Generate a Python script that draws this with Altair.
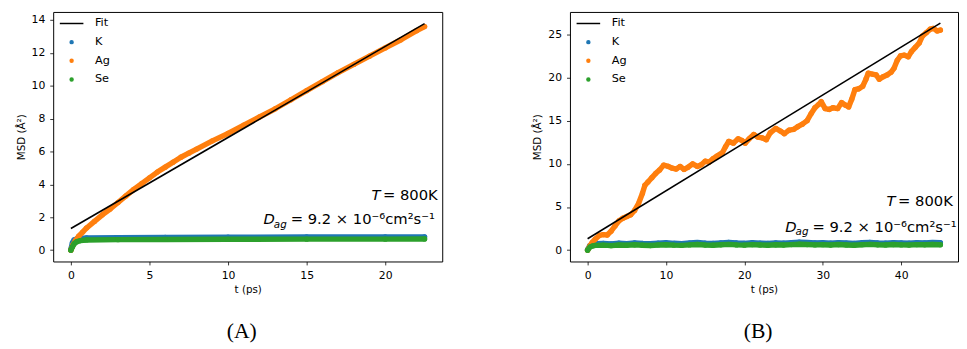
import altair as alt
import pandas as pd

FONT = "DejaVu Sans"
SERIES = ["Fit", "K", "Ag", "Se"]
COLORS = ["#000000", "#1f77b4", "#ff7f0e", "#2ca02c"]
SHAPES = ["M-8,0H8", "circle", "circle", "circle"]

# ---------------- Panel A ----------------
a_t_ag = [0, 0.15, 0.3, 0.5, 0.75, 1.0, 1.5, 2.0, 2.5, 3.0,
          3.5, 4.0, 4.5, 5.0, 5.5, 6.0, 6.5, 7.0, 7.5, 8.0,
          9.0, 10.0, 11.0, 12.0, 13.0, 14.0, 15.0, 16.0, 17.0, 18.0,
          19.0, 20.0, 21.0, 22.0, 22.5]
a_ag = [0, 0.35, 0.6, 0.85, 1.1, 1.35, 1.75, 2.15, 2.5, 2.9,
        3.3, 3.7, 4.05, 4.4, 4.75, 5.05, 5.35, 5.65, 5.9, 6.15,
        6.65, 7.1, 7.6, 8.1, 8.6, 9.15, 9.7, 10.25, 10.8, 11.3,
        11.8, 12.3, 12.8, 13.35, 13.6]
a_t_k = [0, 0.1, 0.2, 0.4, 1.0, 3.0, 6.0, 10.0, 15.0, 20.0, 22.5]
a_k = [0.05, 0.45, 0.62, 0.7, 0.74, 0.76, 0.77, 0.79, 0.80, 0.81, 0.81]
a_t_se = [0, 0.1, 0.2, 0.35, 0.6, 1.0, 3.0, 6.0, 10.0, 15.0, 20.0, 22.5]
a_se = [0, 0.2, 0.38, 0.5, 0.58, 0.62, 0.64, 0.65, 0.66, 0.67, 0.67, 0.68]
a_fit_t = [0, 22.5]
a_fit = [1.32, 13.78]

# ---------------- Panel B ----------------
b_t_ag = [0, 0.3, 0.6, 1.0, 1.5, 2.0, 2.5, 3.0, 3.5, 4.0,
          4.5, 5.0, 5.5, 6.0, 6.5, 7.0, 7.3, 7.7, 8.2, 8.7,
          9.2, 9.7, 10.3, 10.8, 11.3, 11.8, 12.3, 12.8, 13.4, 14.0,
          14.5, 15.0, 15.5, 16.0, 16.5, 17.2, 17.6, 18.0, 18.6, 19.2,
          19.7, 20.1, 20.6, 21.2, 21.7, 22.3, 22.8, 23.3, 24.0, 24.6,
          25.1, 25.7, 26.3, 26.8, 27.4, 28.0, 28.5, 29.0, 29.5, 29.8,
          30.3, 30.8, 31.3, 31.9, 32.4, 32.9, 33.3, 33.7, 34.1, 34.6,
          35.1, 35.5, 35.8, 36.3, 36.8, 37.2, 37.7, 38.2, 38.7, 39.1,
          39.5, 39.9, 40.4, 40.9, 41.3, 41.8, 42.3, 42.7, 43.2, 43.7,
          44.1, 44.6, 45.0]
b_ag = [0, 0.5, 0.9, 1.3, 1.7, 1.8, 1.75, 2.2, 2.8, 3.4,
        3.7, 3.9, 4.1, 4.6, 5.4, 6.6, 7.5, 7.9, 8.4, 8.9,
        9.3, 9.85, 9.7, 9.5, 9.4, 9.7, 9.35, 9.6, 10.0, 9.7,
        9.9, 10.3, 10.2, 10.6, 10.9, 11.3, 12.0, 12.6, 12.4, 12.9,
        12.7, 12.4, 12.9, 13.4, 13.1, 13.0, 12.8, 13.6, 14.1, 13.8,
        13.5, 13.9, 14.0, 14.3, 14.6, 15.0, 15.8, 16.5, 16.9, 17.2,
        16.4, 16.3, 16.5, 16.4, 17.1, 16.8, 16.6, 17.5, 18.6, 18.7,
        19.0, 19.8, 20.5, 20.4, 20.3, 19.8, 20.1, 20.3, 20.6, 21.1,
        22.0, 22.5, 22.6, 22.4, 23.0, 23.5, 24.0, 24.8, 25.2, 25.6,
        25.7, 25.4, 25.5]
b_t_ks = [0, 0.3, 0.7, 1, 2, 3, 4, 5, 6, 7, 8, 9, 10, 11, 12, 13, 14, 15,
          16, 17, 18, 19, 20, 21, 22, 23, 24, 25, 26, 27, 28, 29, 30, 31,
          32, 33, 34, 35, 36, 37, 38, 39, 40, 41, 42, 43, 44, 45]
b_k = [0.05, 0.55, 0.72, 0.75, 0.78, 0.72, 0.80, 0.76, 0.83, 0.77, 0.74, 0.81,
       0.85, 0.79, 0.76, 0.82, 0.88, 0.80, 0.78, 0.84, 0.90, 0.83, 0.79, 0.86,
       0.81, 0.77, 0.84, 0.80, 0.86, 0.92, 0.88, 0.83, 0.85, 0.80, 0.87, 0.82,
       0.78, 0.85, 0.90, 0.84, 0.81, 0.87, 0.83, 0.80, 0.86, 0.84, 0.88, 0.85]
b_se = [0.0, 0.35, 0.50, 0.55, 0.58, 0.52, 0.60, 0.56, 0.62, 0.57, 0.54, 0.60,
        0.63, 0.58, 0.55, 0.61, 0.66, 0.59, 0.57, 0.62, 0.67, 0.61, 0.58, 0.64,
        0.60, 0.56, 0.62, 0.59, 0.64, 0.69, 0.65, 0.61, 0.63, 0.59, 0.65, 0.60,
        0.57, 0.63, 0.67, 0.62, 0.60, 0.65, 0.61, 0.59, 0.64, 0.62, 0.66, 0.63]
b_fit_t = [0, 45]
b_fit = [1.32, 26.3]

assert len(a_t_ag) == len(a_ag) and len(b_t_ag) == len(b_ag)
assert len(b_t_ks) == len(b_k) == len(b_se)

ANN_MAIN = "= 9.2 \u00d7 10\u207b\u2076cm\u00b2s\u207b\u00b9"


def legend():
    return alt.Legend(orient="none", legendX=13, legendY=6, title=None,
                      labelFontSize=11.5, labelFont=FONT, labelColor="black")


def series_layers(t, v, name, x, y):
    df = pd.DataFrame({"t": t, "v": v, "series": name})
    color = COLORS[SERIES.index(name)]
    line = alt.Chart(df).mark_line(
        color=color, strokeWidth=5.5, strokeCap="round", strokeJoin="round"
    ).encode(x=x, y=y)
    pts = alt.Chart(df).mark_point(filled=True, size=9, strokeWidth=2.4, opacity=1).encode(
        x=x, y=y,
        fill=alt.Fill("series:N", scale=alt.Scale(domain=SERIES, range=COLORS), legend=legend()),
        stroke=alt.Stroke("series:N", scale=alt.Scale(domain=SERIES, range=COLORS), legend=legend()),
        shape=alt.Shape("series:N", scale=alt.Scale(domain=SERIES, range=SHAPES), legend=legend()),
    )
    return [line, pts]


def label(x, y, t, v, txt, dx=0, dy=0, size=15, style="normal"):
    df = pd.DataFrame({"t": [t], "v": [v], "txt": [txt]})
    return alt.Chart(df).mark_text(
        align="left", baseline="alphabetic", font=FONT, fontSize=size,
        fontStyle=style, dx=dx, dy=dy, color="black"
    ).encode(x=x, y=y, text="txt:N")


def panel(series, fit_t, fit_v, tT, vT, tD, vD, xdom, ydom, xticks, yticks, width, caption):
    x = alt.X("t:Q", scale=alt.Scale(domain=xdom, nice=False, zero=False),
              axis=alt.Axis(values=xticks, title="t (ps)"))
    y = alt.Y("v:Q", scale=alt.Scale(domain=ydom, nice=False, zero=False),
              axis=alt.Axis(values=yticks, title="MSD (\u00c5\u00b2)"))
    layers = []
    for name, t, v in series:
        layers += series_layers(t, v, name, x, y)
    layers.append(
        alt.Chart(pd.DataFrame({"t": fit_t, "v": fit_v}))
        .mark_line(color="black", strokeWidth=1.6)
        .encode(x=x, y=y)
    )
    layers.append(label(x, y, tT, vT, "T", style="italic"))
    layers.append(label(x, y, tT, vT, "= 800K", dx=11.7))
    layers.append(label(x, y, tD, vD, "D", style="italic"))
    layers.append(label(x, y, tD, vD, "ag", dx=10.6, dy=3.5, size=10.5, style="italic"))
    layers.append(label(x, y, tD, vD, ANN_MAIN, dx=27.8))
    return alt.layer(*layers).properties(
        width=width, height=254,
        title=alt.TitleParams(caption, orient="bottom", frame="group", anchor="middle",
                              font="Liberation Serif", fontSize=22, fontWeight="normal",
                              color="black", offset=27, dx=-6),
    )


pA = panel([("K", a_t_k, a_k), ("Ag", a_t_ag, a_ag), ("Se", a_t_se, a_se)],
           a_fit_t, a_fit, 19.125, 3.06, 12.25, 1.58,
           [-1.125, 23.625], [-0.69, 14.49],
           [0, 5, 10, 15, 20], [0, 2, 4, 6, 8, 10, 12, 14], 396, "(A)")
pB = panel([("K", b_t_ks, b_k), ("Ag", b_t_ag, b_ag), ("Se", b_t_ks, b_se)],
           b_fit_t, b_fit, 38.14, 5.06, 25.2, 2.13,
           [-2.25, 47.25], [-1.315, 27.6],
           [0, 10, 20, 30, 40], [0, 5, 10, 15, 20, 25], 395, "(B)")

chart = (
    alt.hconcat(pA, pB, spacing=130, bounds="flush")
    .resolve_scale(fill="independent", stroke="independent", shape="independent")
    .properties(padding={"left": 8, "top": 0, "right": 0, "bottom": 0})
    .configure_view(stroke="black", strokeWidth=1)
    .configure_axis(domain=False, grid=False, tickColor="black", tickWidth=0.8, tickSize=3.5,
                    labelFont=FONT, labelFontSize=11, labelColor="black", labelPadding=5,
                    labelFlush=False, titleFont=FONT, titleFontSize=10.5,
                    titleFontWeight="normal", titleColor="black")
    .configure_axisX(titlePadding=4)
    .configure_axisY(titlePadding=5)
    .configure_legend(labelFont=FONT, labelFontSize=11.5, labelColor="black", labelOffset=18,
                      rowPadding=6, symbolSize=9, symbolStrokeWidth=1.5, symbolOpacity=1,
                      padding=0)
)

chart.save("out.html", embed_options={"renderer": "svg", "actions": False})
